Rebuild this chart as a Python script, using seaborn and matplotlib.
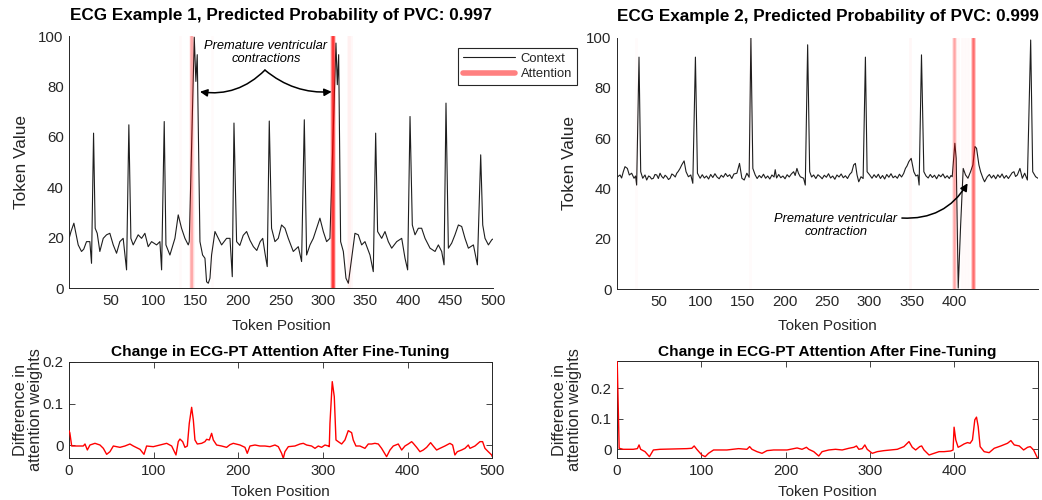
import matplotlib
matplotlib.use("Agg")
import matplotlib.pyplot as plt
from matplotlib.lines import Line2D
import seaborn as sns

# ---------------- data ----------------
title_top1 = "ECG Example 1, Predicted Probability of PVC: 0.997"
title_top2 = "ECG Example 2, Predicted Probability of PVC: 0.999"
title_bottom = "Change in ECG-PT Attention After Fine-Tuning"

ecg1_pos = [1, 3, 6.4, 9, 11.5, 15.4, 18, 21.3, 25.2, 27.2, 29.6, 31.5, 33.9, 37.0, 41.0, 44.9, 48.8, 52.8,
            56.7, 60.6, 64.5, 68.5, 71.2, 73.6, 76.3, 82.2, 86.2, 90.1, 94.0, 98.0, 103.9, 107.8, 109.8,
            112.9, 114.9, 119.6, 125.5, 129.4, 133.3, 137.3, 141.2, 142.4, 148.3, 150.2, 151.8, 155.0,
            158.1, 160.9, 162.8, 164.8, 166.8, 168.7, 172.7, 176.6, 180.5, 186.4, 190.4, 193.1, 195.1,
            198.2, 202, 206, 210, 214, 218, 222, 226, 229, 231.6, 234.3, 236.7, 239.4, 243.4, 247.3,
            251.2, 255.2, 259.1, 265.0, 270.9, 274.8, 278.0, 280.7, 284.7, 288.6, 292.5, 296.4, 300.4,
            304.3, 308.2, 315.3, 316.9, 318.5, 320.8, 324.0, 327.1, 329.9, 333.8, 337.7, 341.6, 345.6,
            349.5, 355.4, 359.3, 362.1, 364.4, 369.2, 373.1, 377.0, 381.0, 386.9, 392.8, 396.7, 399.8,
            402.6, 405.3, 408.5, 412.4, 416.3, 420.3, 426.2, 432.1, 436.0, 439.9, 442.7, 445.0, 447.8,
            451.7, 455.6, 459.6, 463.5, 467.4, 471.4, 477.3, 482.0, 485.9, 488.3, 491.0, 495.0, 498.9, 500]
ecg1_val = [20.0, 22.5, 25.8, 21.5, 17.2, 14.6, 15.5, 18.5, 18.5, 9.9, 61.5, 23.8, 21.8, 14.6, 19.8, 21.2, 21.8, 17.2,
            13.9, 18.5, 19.8, 7.3, 64.8, 19.8, 17.2, 21.2, 19.8, 21.8, 16.5, 18.5, 17.2, 18.5, 7.3,
            66.1, 17.2, 13.2, 19.8, 29.1, 23.8, 19.8, 17.2, 18.5, 99.5, 82.0, 92.6, 18.5,
            13.2, 11.9, 2.6, 2.0, 4.0, 13.2, 22.5, 19.8, 17.2, 19.8, 19.8, 4.6, 65.5,
            18.5, 17.0, 21.0, 22.5, 19.0, 16.5, 15.0, 18.5, 19.8, 14.0, 8.6, 66.3, 23.8, 18.5, 19.8,
            25.1, 23.8, 19.8, 14.6, 16.5, 10.6, 66.8, 13.2, 17.2, 19.8, 23.8, 27.8, 22.5,
            18.5, 19.8, 97.2, 80.7, 92.6, 18.5, 14.6, 4.0, 2.0, 11.9, 21.8, 21.2, 17.2,
            18.5, 13.2, 6.6, 61.5, 22.5, 19.8, 22.5, 18.5, 15.9, 18.5, 19.8, 11.9, 7.3,
            68.1, 25.1, 21.2, 23.8, 23.8, 19.8, 15.9, 14.6, 17.2, 14.6, 9.3, 73.4, 15.9,
            17.9, 21.2, 25.1, 24.5, 19.8, 15.9, 17.2, 9.3, 52.9, 25.1, 19.8, 17.2, 19.2, 19.5]

ecg2_pos = [1, 4.6, 6.5, 8.5, 10.5, 13.3, 15.6, 18.4, 21.2, 23, 24.3, 27.1, 29.1, 31.5, 34.2, 36.2, 38.5, 40.1,
            42.0, 44.1, 46.0, 48.1, 50.0, 52.0, 54.0, 56.0, 58.0, 59.9, 62.0, 63.9, 66.0, 67.8, 70.0, 71.8,
            73.5, 75.7, 77.7, 80.5, 82.8, 85.6, 88.4, 90.8, 93.9, 96.3, 99.5, 102, 104.5, 107, 109.5, 112,
            114.5, 117, 119.5, 122, 124.5, 127, 129.5, 132, 134.5, 137, 139.5, 143.0, 146.1, 148.9, 151.7,
            154.8, 157.5, 159.6, 161.9, 164.7, 167, 169.5, 172, 174.5, 177, 179.5, 182, 184.5, 187, 188.4,
            190, 192.5, 195, 197.5, 200, 202.5, 205, 207.5, 210.2, 212, 214.1, 216, 218.1, 222.0, 224.0,
            226.8, 229.2, 231.5, 233.9, 236.5, 239, 241.8, 244, 246.5, 249, 251.5, 254, 256.5, 259, 261.5,
            264, 266.5, 269, 271.5, 274, 276.5, 279, 281.3, 283.3, 285.3, 287.3, 290.0, 292.5, 295.2,
            297.2, 300.3, 303, 305.5, 308, 310.5, 313, 315.5, 318, 320.5, 323, 325.5, 328, 330.5, 333,
            335.5, 338, 340.5, 342.6, 344.5, 346.6, 349.4, 352.5, 355, 357.3, 358.8, 361.6, 364.4, 367,
            369.5, 372, 374.5, 377, 379.5, 382, 384.5, 387, 389.5, 392, 394.5, 396.5, 398.0, 401.1, 402.7,
            405.1, 407.9, 411.0, 413.8, 416.6, 419.7, 422.5, 424.9, 426.8, 429.6, 431.6, 434.4, 436.3,
            439.5, 442, 444.5, 447, 449.5, 452, 454.5, 457, 459.5, 462, 464.5, 467.2, 469, 471.1, 473,
            475.1, 478.2, 481.0, 483.8, 487.0, 490.9, 493.3, 496.8, 499.5]
ecg2_val = [44.5, 45.4, 44.2, 46.7, 48.7, 48.0, 45.4, 46.1, 44.1, 45.0, 41.4, 92.2, 46.7, 44.1, 45.4, 43.4, 45.0, 44.7,
            43.8, 44.1, 45.6, 45.4, 44.0, 46.1, 44.8, 44.1, 45.3, 44.7, 43.6, 44.1, 45.8, 45.4, 44.6, 46.1,
            46.8, 48.0, 49.4, 51.0, 46.7, 44.7, 45.4, 42.1, 92.2, 46.1, 44.1, 45.5, 44.2, 45.0, 43.8, 45.6,
            44.4, 45.9, 44.6, 43.9, 45.3, 44.5, 46.0, 44.8, 45.5, 44.0, 45.8, 46.1, 50.0, 44.1, 43.4,
            46.1, 44.5, 100.0, 48.0, 45.4, 44.0, 45.2, 44.3, 45.7, 44.1, 45.0, 43.8, 45.4, 44.6, 47.5,
            44.2, 45.6, 44.3, 45.0, 43.9, 45.5, 44.6, 45.8, 46.7, 45.2, 48.0, 46.0, 44.7, 44.1, 41.4,
            97.1, 46.7, 44.6, 45.4, 44.0, 45.5, 44.7, 43.9, 45.3, 44.5, 45.9, 44.2, 45.0, 43.7, 45.4,
            44.6, 45.8, 44.3, 45.1, 44.0, 45.6, 46.5, 49.4, 50.0, 45.4, 42.7, 44.7, 44.0, 92.2,
            46.7, 45.4, 44.1, 45.5, 44.4, 45.7, 44.0, 45.2, 43.8, 45.6, 44.5, 45.9, 44.3, 45.0, 44.1,
            45.7, 44.6, 46.0, 48.0, 49.0, 50.7, 52.0, 46.7, 45.0, 45.4, 41.4, 93.1, 46.7, 45.0,
            44.2, 45.6, 44.4, 45.3, 43.9, 45.5, 44.7, 45.8, 44.2, 45.1, 44.0, 45.2, 44.7, 58.0, 52.0,
            0.5, 25.0, 48.0, 45.4, 44.1, 46.7, 49.4, 56.7, 56.0, 49.4, 46.7, 44.1, 42.7,
            44.7, 45.6, 44.2, 45.3, 43.9, 45.5, 44.4, 45.8, 44.1, 45.2, 44.0, 45.4, 46.3, 46.7, 44.8,
            45.4, 48.0, 44.1, 46.1, 43.4, 99.0, 46.7, 44.7, 44.1]

diff1_pos = [0, 1, 3.2, 9.1, 16.9, 18.9, 21.7, 24.8, 30.7, 36.6, 40.6, 44.5, 48.4, 52.4, 60.2, 66.1, 72.0, 76.0,
             83.9, 88.6, 91.7, 99.6, 107.5, 115.4, 121.3, 126.4, 129.1, 131.1, 134.3, 137.0, 139.8, 142.1,
             144.9, 146.9, 148.8, 151.6, 156.7, 160.6, 162.6, 165.8, 168.5, 170.5, 174.4, 180.3, 186.2,
             190.2, 194.1, 202.0, 207.9, 210.6, 213.8, 219.7, 225.6, 231.5, 237.4, 243.3, 247.3, 251.2,
             253.2, 255.1, 259.1, 266.9, 272.9, 276.8, 280.7, 286.6, 290.6, 294.5, 298.4, 302.4, 306.3,
             307.5, 308.3, 311.0, 313.4, 315.4, 318.1, 322.1, 326.0, 329.9, 333.9, 335.8, 339.0, 343.7,
             349.6, 353.6, 357.5, 361.4, 365.4, 369.3, 375.2, 379.2, 383.1, 389.0, 393.0, 396.9, 400.8,
             404.8, 406.7, 410.7, 414.6, 418.5, 422.5, 427.2, 430.3, 434.3, 438.2, 444.1, 450.0, 453.2,
             455.9, 458.7, 463.8, 467.8, 471.7, 473.7, 479.6, 485.5, 488.6, 491.4, 495.3, 499.3, 500]
diff1_val = [0.035, 0.030, -0.0016, -0.0016, -0.0016, 0.0032, -0.011, 0.0008, 0.0048, 0.0008, -0.0072, -0.0215,
             -0.0152, -0.0016, -0.0048, -0.0016, 0.0032, -0.0016, -0.0096, -0.0215, -0.0016, -0.0032, 0.0008,
             0.0048, -0.0016, -0.023, 0.0088, 0.015, 0.0088, -0.0048, -0.0016, 0.0526, 0.0909, 0.0606, 0.0128,
             0.0032, 0.0048, 0.0088, 0.0144, 0.0128, 0.0287, 0.0128, 0.0008, -0.0016, -0.0048, 0.0016, 0.0048,
             0.0008, -0.0048, -0.0191, -0.0016, 0.0008, -0.0016, -0.0016, -0.0032, 0.0008, -0.0032, -0.0191,
             -0.031, -0.0152, -0.0032, -0.0016, 0.0032, 0.0048, 0.0008, -0.0016, -0.0072, -0.0016, -0.0048,
             0.0008, -0.0016, -0.0032, 0.0526, 0.1523, 0.1164, 0.0128, 0.0088, 0.0032, 0.0128, 0.0351, 0.0303,
             0.0128, -0.0016, -0.0016, -0.0072, 0.0032, 0.0032, 0.0048, 0.0032, -0.0072, -0.0271, -0.0112,
             -0.0016, 0.0032, -0.0112, -0.0016, 0.0032, 0.0088, 0.0048, -0.0048, -0.0152, -0.0112, -0.0048,
             0.0064, -0.0016, -0.0112, -0.0072, -0.0016, 0.0048, 0.0008, -0.023, -0.0152, -0.0112, -0.0072,
             0.0008, -0.0072, -0.0016, 0.0088, 0.0088, -0.0072, -0.0152, -0.023, -0.027]

diff2_pos = [0.3, 2.6, 7.5, 19.4, 24.2, 26.2, 28.1, 33.3, 38.5, 43.2, 51.1, 82.9, 88.8, 91.6, 94.7, 100.7, 104.7,
             108.6, 114.6, 130.4, 144.3, 154.2, 157.4, 160.2, 166.1, 172.1, 178.0, 185.9, 201.8, 209.7, 213.7,
             219.6, 224.8, 227.6, 233.5, 239.4, 243.4, 251.3, 259.3, 267.2, 275.1, 281.1, 284.2, 287.0, 291.0,
             294.1, 296.9, 302.9, 308.9, 316.7, 324.7, 332.6, 340.5, 346.5, 350.4, 354.4, 359.2, 361.5, 364.3,
             370.3, 376.2, 382.2, 388.1, 396.0, 398.8, 400.0, 402.0, 404.8, 407.9, 411.9, 415.9, 419.0, 421.8,
             424.6, 426.6, 428.6, 430.9, 435.7, 441.6, 447.6, 455.5, 463.4, 467.4, 471.4, 477.3, 482.5, 487.2,
             490.4, 494.4, 499.0]
diff2_val = [0.289, 0.0033, 0.0, 0.0, 0.0022, 0.0143, 0.0, -0.0077, -0.0242, -0.0022, 0.0, 0.0022, 0.0033, 0.011,
             0.0, -0.0187, -0.0242, -0.0132, -0.0022, -0.0022, 0.0022, 0.0, 0.0088, 0.0, -0.0077, -0.0132,
             -0.0044, -0.0022, -0.0022, 0.0022, 0.0044, 0.0, 0.0066, 0.0, -0.0077, -0.022, -0.0077, -0.0022,
             0.0, -0.0022, 0.0033, 0.0066, 0.011, 0.0, 0.0022, 0.0143, 0.0, -0.0132, -0.0077, -0.0044, -0.0022,
             0.0, 0.0088, 0.0253, 0.0066, -0.0022, 0.0088, 0.011, -0.0022, -0.0187, -0.0132, -0.0077, -0.0077,
             -0.0055, -0.0022, 0.0725, 0.0308, 0.0066, 0.011, 0.0176, 0.022, 0.0198, 0.0308, 0.0967, 0.1055,
             0.0747, 0.0088, -0.0077, -0.011, 0.0033, 0.011, 0.0198, 0.0286, 0.0143, 0.011, -0.0022, 0.0066,
             0.0088, -0.0022, -0.029]

attn1_pos = [131, 143, 144, 145, 146, 147, 169, 310, 311, 312, 313, 329, 331, 333]
attn1_weight = [0.02, 0.06, 0.1, 0.14, 0.1, 0.06, 0.02, 0.15, 0.45, 0.55, 0.2, 0.03, 0.03, 0.03]
attn2_pos = [24, 159, 348, 399, 400, 401, 405, 409, 413, 417, 422, 423, 424]
attn2_weight = [0.015, 0.015, 0.03, 0.1, 0.2, 0.12, 0.025, 0.025, 0.025, 0.025, 0.2, 0.35, 0.22]

top1_xticks = [50, 100, 150, 200, 250, 300, 350, 400, 450, 500]
top2_xticks = [50, 100, 150, 200, 250, 300, 350, 400]
top_yticks = [0, 20, 40, 60, 80, 100]
bot1_xticks = [0, 100, 200, 300, 400, 500]
bot2_xticks = [0, 100, 200, 300, 400]
bot_yticks = [0, 0.1, 0.2]
bot_yticklabels = ["0", "0.1", "0.2"]

# ---------------- style ----------------
sns.set_theme(style="white")
plt.rcParams['font.family'] = ['Liberation Sans', 'DejaVu Sans']
AX_COL = '#262626'
plt.rcParams.update({
    'axes.edgecolor': AX_COL, 'axes.linewidth': 0.7,
    'xtick.color': AX_COL, 'ytick.color': AX_COL,
    'axes.labelcolor': AX_COL, 'text.color': AX_COL,
})
TICK_FS = 10.8

fig = plt.figure(figsize=(10.42, 5.0), dpi=100)
ax1 = fig.add_axes([0.0665, 0.4234, 0.4063, 0.5046])
ax2 = fig.add_axes([0.5921, 0.4214, 0.4040, 0.5036])
ax3 = fig.add_axes([0.0662, 0.0834, 0.4062, 0.1932])
ax4 = fig.add_axes([0.5921, 0.0834, 0.4036, 0.1946])

ECG_COL = '#1e1e1e'
for ax, xs, ys, apos, aw in [(ax1, ecg1_pos, ecg1_val, attn1_pos, attn1_weight),
                             (ax2, ecg2_pos, ecg2_val, attn2_pos, attn2_weight)]:
    sns.lineplot(x=xs, y=ys, ax=ax, color=ECG_COL, linewidth=0.8, estimator=None, sort=False)
    for t, w in zip(apos, aw):
        ax.axvline(t, color=(1.0, 0.0, 0.0), alpha=w, lw=2.0, zorder=3)
    ax.set_ylim(0, 100)
    ax.set_yticks(top_yticks)
    sns.despine(ax=ax)
    ax.tick_params(direction='in', length=4, width=0.6, labelsize=TICK_FS, pad=4)
    ax.set_xlabel("Token Position", fontsize=11, va='center')
    ax.set_ylabel("Token Value", fontsize=12.4, va='center')

ax1.set_xlim(1, 500)
ax1.set_xticks(top1_xticks)
ax2.set_xlim(1, 499.5)
ax2.set_xticks(top2_xticks)
ax1.xaxis.set_label_coords(0.5, -0.149)
ax2.xaxis.set_label_coords(0.5, -0.146)
ax1.yaxis.set_label_coords(-0.112, 0.5)
ax2.yaxis.set_label_coords(-0.112, 0.5)

ax1.set_title(title_top1, fontsize=12.3, fontweight='bold', color='black', y=1.083, pad=0, va='center')
ax2.set_title(title_top2, fontsize=12.3, fontweight='bold', color='black', y=1.085, pad=0, va='center')

# legend
handles = [Line2D([], [], color=ECG_COL, lw=0.8), Line2D([], [], color='#ff8080', lw=4)]
leg = ax1.legend(handles, ["Context", "Attention"], loc='upper left',
                 bbox_to_anchor=(458 / 1042, 1 - 48 / 500), bbox_transform=fig.transFigure,
                 frameon=True, fancybox=False, edgecolor=AX_COL, framealpha=1, fontsize=9.4,
                 handlelength=4.0, handletextpad=0.45, borderpad=0.35, labelspacing=0.25, borderaxespad=0)
leg.get_frame().set_linewidth(0.8)

# annotations
arrow_kw = dict(arrowstyle='-|>', color='black', lw=1.1, mutation_scale=11, shrinkA=0, shrinkB=0)
ax1.text(232.8, 93.5, "Premature ventricular\ncontractions", ha='center', va='center',
         style='italic', fontsize=9.3, color='black', linespacing=1.05)
ax1.annotate('', xy=(155, 77.9), xytext=(231.6, 86.5),
             arrowprops=dict(connectionstyle='arc3,rad=-0.25', **arrow_kw))
ax1.annotate('', xy=(310.3, 77.9), xytext=(231.6, 86.5),
             arrowprops=dict(connectionstyle='arc3,rad=0.2', **arrow_kw))
ax2.text(260.3, 25.3, "Premature ventricular\ncontraction", ha='center', va='center',
         style='italic', fontsize=9.3, color='black', linespacing=1.05)
ax2.annotate('', xy=(416.2, 42.1), xytext=(338.4, 28.3),
             arrowprops=dict(connectionstyle='arc3,rad=0.3', **arrow_kw))

# bottom panels
for ax, xs, ys in [(ax3, diff1_pos, diff1_val), (ax4, diff2_pos, diff2_val)]:
    sns.lineplot(x=xs, y=ys, ax=ax, color='#ff0000', linewidth=1.0, estimator=None, sort=False, zorder=3)
    ax.set_yticks(bot_yticks)
    ax.set_yticklabels(bot_yticklabels)
    for s in ax.spines.values():
        s.set_visible(True)
    ax.tick_params(direction='in', length=4, width=0.6, labelsize=TICK_FS, pad=4,
                   top=True, right=True, bottom=True, left=True)
    ax.set_xlabel("Token Position", fontsize=11, va='center')
    ax.set_ylabel("Difference in\nattention weights", fontsize=11.8, va='center', linespacing=1.0)

ax3.set_xlim(0, 500)
ax3.set_ylim(-0.031, 0.2)
ax3.set_xticks(bot1_xticks)
ax4.set_xlim(0, 499)
ax4.set_ylim(-0.0295, 0.2895)
ax4.set_xticks(bot2_xticks)
ax3.xaxis.set_label_coords(0.5, -0.349)
ax4.xaxis.set_label_coords(0.5, -0.349)
ax3.yaxis.set_label_coords(-0.098, 0.5)
ax4.yaxis.set_label_coords(-0.119, 0.5)
ax3.set_title(title_bottom, fontsize=11.1, fontweight='bold', color='black', y=1.10, pad=0, va='center')
ax4.set_title(title_bottom, fontsize=11.1, fontweight='bold', color='black', y=1.093, pad=0, va='center')

fig.savefig("out.png", dpi=100, facecolor='white')
